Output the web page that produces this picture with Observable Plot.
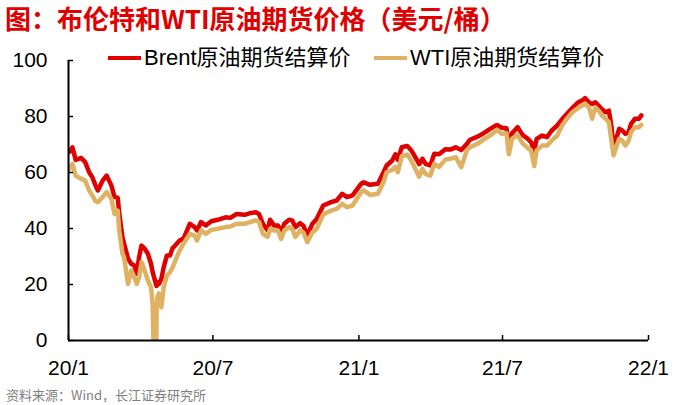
<!DOCTYPE html>
<html>
<head>
<meta charset="utf-8">
<script src="https://cdn.jsdelivr.net/npm/d3@7"></script>
<script src="https://cdn.jsdelivr.net/npm/@observablehq/plot@0.6"></script>
<style>
  body { margin: 0; background: #fff; }
  #wrap { position: relative; width: 682px; height: 405px; background: #fff;
          font-family: "Liberation Sans", "Noto Sans CJK SC", sans-serif; }
  #title { position: absolute; left: 5px; top: 0px; width: 640px; font-size: 26px; font-weight: bold;
           font-family: "Noto Sans CJK SC", sans-serif; padding: 2px 0;
           color: #E00000; white-space: nowrap; line-height: 32px; }
  #chart { position: absolute; left: 0; top: 40px; }
  .item { position: absolute; top: 45px; height: 26px; display: flex; align-items: center;
          font-size: 22px; line-height: 26px; color: #000; white-space: nowrap; }
  .sw { width: 33px; height: 4px; margin-right: 3px; }
  #source { position: absolute; left: 6px; top: 386px; width: 400px; font-size: 13px; line-height: 17px;
            color: #7f7f7f; white-space: nowrap; font-family: "Noto Sans CJK SC", sans-serif; }
</style>
</head>
<body>
<div id="wrap">
  <div id="title"></div>
  <div id="chart"></div>
  <div id="source"></div>
</div>
<script>
const titleText = "图：布伦特和WTI原油期货价格（美元/桶）";
const sourceText = "资料来源：Wind，长江证券研究所";
const seriesNames = ["Brent原油期货结算价", "WTI原油期货结算价"];
const seriesColors = ["#E00000", "#DFB263"];

const dates = [
  "2020-01-02","2020-01-06","2020-01-10","2020-01-17","2020-01-22","2020-01-27","2020-01-31",
  "2020-02-04","2020-02-07","2020-02-13","2020-02-18","2020-02-24","2020-02-28",
  "2020-03-03","2020-03-05","2020-03-09","2020-03-11","2020-03-16","2020-03-20","2020-03-24","2020-03-27","2020-03-30",
  "2020-04-02","2020-04-06","2020-04-10","2020-04-14","2020-04-16","2020-04-20","2020-04-21","2020-04-22","2020-04-24","2020-04-27","2020-04-30",
  "2020-05-04","2020-05-08","2020-05-11","2020-05-13","2020-05-20","2020-05-25",
  "2020-06-02","2020-06-08","2020-06-11","2020-06-16","2020-06-22","2020-06-29",
  "2020-07-07","2020-07-17","2020-07-23","2020-07-31",
  "2020-08-10","2020-08-17","2020-08-24","2020-08-28",
  "2020-09-02","2020-09-08","2020-09-11","2020-09-16","2020-09-21","2020-09-25","2020-09-29",
  "2020-10-05","2020-10-09","2020-10-13","2020-10-19","2020-10-23","2020-10-28",
  "2020-11-03","2020-11-09","2020-11-17","2020-11-27",
  "2020-12-04","2020-12-11","2020-12-17","2020-12-24",
  "2021-01-04","2021-01-07","2021-01-15","2021-01-25",
  "2021-02-01","2021-02-05","2021-02-12","2021-02-16","2021-02-19","2021-02-24",
  "2021-03-03","2021-03-08","2021-03-12","2021-03-18","2021-03-22","2021-03-26",
  "2021-04-01","2021-04-06","2021-04-12","2021-04-20","2021-04-26",
  "2021-05-03","2021-05-10","2021-05-17","2021-05-21",
  "2021-06-01","2021-06-07","2021-06-14","2021-06-18","2021-06-24","2021-06-30",
  "2021-07-06","2021-07-09","2021-07-13","2021-07-20","2021-07-26",
  "2021-08-02","2021-08-06","2021-08-10","2021-08-13","2021-08-20","2021-08-26",
  "2021-09-01","2021-09-08","2021-09-14","2021-09-20","2021-09-27",
  "2021-10-04","2021-10-11","2021-10-13","2021-10-18","2021-10-22","2021-10-26",
  "2021-11-01","2021-11-03","2021-11-08","2021-11-12","2021-11-15","2021-11-18","2021-11-22","2021-11-25","2021-11-29",
  "2021-12-03","2021-12-07","2021-12-10","2021-12-15","2021-12-20","2021-12-23"
];

const brent = [
  67.3,69.0,64.5,65.2,63.7,60.1,58.3,
  55.4,53.6,57.1,58.9,55.4,51.2,
  51.0,45.4,36.9,34.6,29.3,27.4,26.8,23.9,29.8,
  33.9,32.8,31.0,27.4,24.5,20.3,19.5,20.8,20.2,22.0,26.2,
  30.4,30.4,32.9,33.5,35.7,36.4,
  41.7,40.5,39.3,42.3,41.1,42.6,
  43.1,44.0,43.8,45.2,
  44.9,45.5,45.8,45.2,
  41.7,39.3,43.1,41.1,41.1,38.7,41.7,
  43.1,42.9,40.5,41.9,41.0,37.5,
  41.5,43.5,48.2,49.4,
  50.0,52.4,51.2,51.8,
  56.0,56.5,55.6,56.0,
  60.1,62.5,64.3,66.5,64.5,69.0,
  69.5,67.9,66.0,63.0,64.9,63.1,
  62.5,66.7,66.5,68.3,68.2,
  69.0,68.0,70.2,71.7,
  73.0,74.0,75.3,76.0,77.0,76.0,
  75.8,69.4,74.0,76.2,73.5,
  72.0,70.8,67.7,72.0,73.2,72.6,
  75.0,76.8,79.0,80.9,83.0,
  85.0,86.0,86.6,85.0,84.5,85.1,
  83.3,82.7,81.5,82.1,77.0,69.6,72.6,75.6,75.0,
  73.8,74.4,77.4,79.2,79.2,80.4
];

const wti = [
  61.3,63.1,58.9,57.7,57.1,53.6,51.8,
  49.8,49.4,51.2,53.0,50.6,45.2,
  46.4,39.3,31.0,29.8,20.2,25.0,22.6,20.2,22.6,
  28.0,25.0,21.4,19.0,13.0,-37.6,10.0,15.5,16.8,11.9,19.0,
  23.2,24.4,26.0,27.4,32.1,34.6,
  38.1,37.5,35.7,39.3,38.1,39.5,
  39.9,40.5,40.7,41.7,
  41.7,42.3,42.9,42.3,
  38.1,37.0,39.9,39.3,39.3,36.3,39.3,
  40.5,39.9,37.0,39.3,38.5,35.1,
  38.5,40.0,45.0,46.4,
  47.0,48.8,47.6,48.2,
  53.0,53.6,52.0,52.4,
  56.5,60.1,61.0,62.0,60.1,65.8,
  66.4,64.3,62.0,58.5,61.3,59.5,
  58.9,63.1,62.0,64.6,64.9,
  65.5,61.9,67.9,69.0,
  70.5,71.8,73.0,73.8,75.2,73.8,
  74.0,66.5,72.0,73.5,70.5,
  68.7,67.9,62.3,67.9,69.6,69.6,
  71.4,73.2,76.8,79.2,81.5,
  83.0,84.2,84.6,83.3,79.2,83.3,
  81.5,80.4,79.2,78.0,72.0,66.1,69.6,72.0,71.4,
  69.6,71.4,74.4,76.2,76.2,77.0
];

const xTicks = ["2020-01-01","2020-07-01","2021-01-01","2021-07-01","2022-01-01"];
const xTickLabels = ["20/1","20/7","21/1","21/7","22/1"];
const yTicks = [0, 20, 40, 60, 80, 100];

const rows = dates.map((d, i) => ({date: new Date(d), brent: brent[i], wti: wti[i]}));
const tickDates = xTicks.map(d => new Date(d));
const xDomain = [tickDates[0], tickDates[tickDates.length - 1]];

document.getElementById("title").textContent = titleText;
document.getElementById("source").textContent = sourceText;

// legend
const wrap = document.getElementById("wrap");
const legendLeft = [108, 374];
seriesNames.forEach((name, i) => {
  const item = document.createElement("div");
  item.className = "item";
  item.style.left = legendLeft[i] + "px";
  const sw = document.createElement("span");
  sw.className = "sw";
  sw.style.background = seriesColors[i];
  const t = document.createElement("span");
  t.textContent = name;
  item.appendChild(sw);
  item.appendChild(t);
  wrap.appendChild(item);
});

const chart = Plot.plot({
  width: 682,
  height: 345,
  marginLeft: 68,
  marginRight: 34,
  marginTop: 20,
  marginBottom: 45,
  style: {fontFamily: "Liberation Sans, Arial, sans-serif", fontSize: "21px", color: "#000", background: "transparent"},
  x: {type: "utc", domain: xDomain},
  y: {domain: [0, 100]},
  marks: [
    Plot.lineY(rows, {x: "date", y: "brent", stroke: seriesColors[0], strokeWidth: 4.5, clip: true}),
    Plot.lineY(rows, {x: "date", y: "wti", stroke: seriesColors[1], strokeWidth: 4.5, clip: true}),
    Plot.ruleY([0], {stroke: "#000", strokeWidth: 2}),
    Plot.ruleX([xDomain[0]], {stroke: "#000", strokeWidth: 2}),
    Plot.axisX({ticks: tickDates, tickFormat: (d, i) => xTickLabels[i], tickSize: -5, tickPadding: 25,
                fontSize: 21, stroke: "#000", strokeWidth: 1.5}),
    Plot.axisY({ticks: yTicks, tickSize: -5, tickPadding: 26, fontSize: 21, stroke: "#000", strokeWidth: 1.5})
  ]
});
document.getElementById("chart").appendChild(chart);
</script>
</body>
</html>
